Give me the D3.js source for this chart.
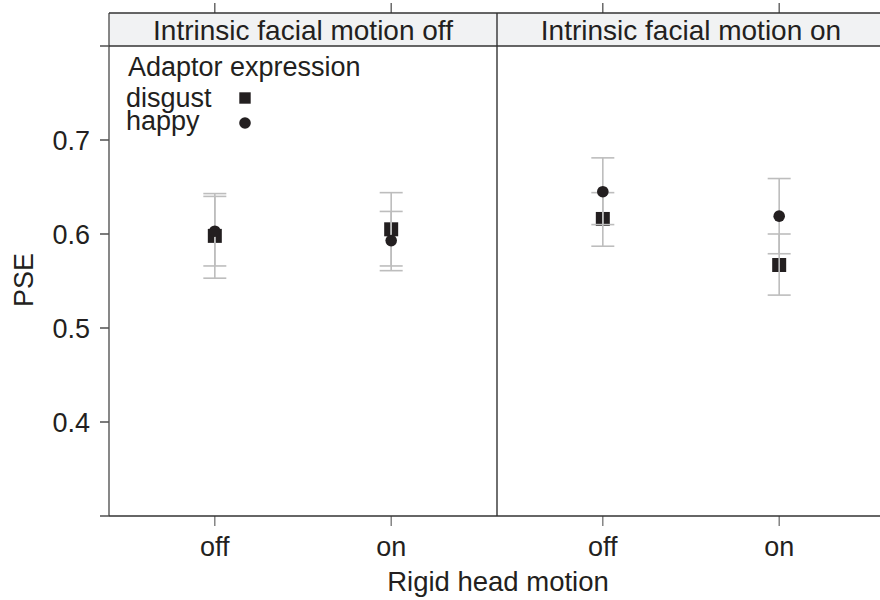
<!DOCTYPE html>
<html>
<head>
<meta charset="utf-8">
<style>
body { margin: 0; background: #fff; }
text { font-family: "Liberation Sans", Arial, sans-serif; fill: #231f20; }
</style>
</head>
<body>
<div id="chart"></div>
<script src="https://d3js.org/d3.v7.min.js"></script>
<script>

// data
var panels = ["Intrinsic facial motion off", "Intrinsic facial motion on"];
var headLevels = ["off", "on"];
var expressions = ["disgust", "happy"];
// values per panel, in order [off, on]
var disgustPSE   = [[0.598, 0.605], [0.616, 0.567]];
var disgustLower = [[0.553, 0.566], [0.587, 0.535]];
var disgustUpper = [[0.643, 0.644], [0.644, 0.600]];
var happyPSE     = [[0.603, 0.593], [0.645, 0.619]];
var happyLower   = [[0.566, 0.561], [0.610, 0.579]];
var happyUpper   = [[0.640, 0.624], [0.681, 0.659]];
var yTicks = [0.3, 0.4, 0.5, 0.6, 0.7, 0.8];
var yLabels = [0.4, 0.5, 0.6, 0.7];

var W = 880, H = 600;
var mLeft = 109, mTop = 13, stripH = 33, mBottom = 516, panelW = 388;

var rows = [];
panels.forEach(function(p, pi) {
  headLevels.forEach(function(h, hi) {
    rows.push({panel: pi, head: h, expr: "disgust", pse: disgustPSE[pi][hi], lo: disgustLower[pi][hi], hi: disgustUpper[pi][hi]});
    rows.push({panel: pi, head: h, expr: "happy", pse: happyPSE[pi][hi], lo: happyLower[pi][hi], hi: happyUpper[pi][hi]});
  });
});

var svg = d3.select("#chart").append("svg")
  .attr("width", W).attr("height", H);

var y = d3.scaleLinear().domain([0.3, 0.8]).range([mBottom, mTop + stripH]);
var x = d3.scalePoint().domain(headLevels).range([0, panelW]).padding(0.6);

// y axis ticks (outside)
svg.selectAll(".ytick").data(yTicks).enter().append("line")
  .attr("x1", mLeft - 9).attr("x2", mLeft)
  .attr("y1", function(d) { return y(d); }).attr("y2", function(d) { return y(d); })
  .attr("stroke", "#333").attr("stroke-width", 1.3);

svg.selectAll(".ylab").data(yLabels).enter().append("text")
  .attr("x", mLeft - 19).attr("y", function(d) { return y(d); })
  .attr("dy", "0.36em").attr("text-anchor", "end")
  .style("font-size", "27px")
  .text(function(d) { return d.toFixed(1); });

svg.append("text")
  .attr("transform", "translate(33,280) rotate(-90)")
  .attr("text-anchor", "middle")
  .style("font-size", "27px")
  .text("PSE");

svg.append("text")
  .attr("x", 498).attr("y", 591)
  .attr("text-anchor", "middle")
  .style("font-size", "27.5px")
  .text("Rigid head motion");

panels.forEach(function(p, pi) {
  var g = svg.append("g").attr("transform", "translate(" + (mLeft + pi * panelW) + ",0)");

  // strip
  g.append("rect")
    .attr("x", 0).attr("y", mTop).attr("width", panelW).attr("height", stripH)
    .attr("fill", "#f1f2f3");
  g.append("text")
    .attr("x", panelW / 2).attr("y", mTop + stripH / 2)
    .attr("dy", "0.36em").attr("text-anchor", "middle")
    .style("font-size", "28px")
    .text(p);

  // top ticks
  g.selectAll(".ttick").data(headLevels).enter().append("line")
    .attr("x1", function(d) { return x(d); }).attr("x2", function(d) { return x(d); })
    .attr("y1", mTop - 10).attr("y2", mTop)
    .attr("stroke", "#444").attr("stroke-width", 1.2);

  // bottom ticks and labels
  g.selectAll(".btick").data(headLevels).enter().append("line")
    .attr("x1", function(d) { return x(d); }).attr("x2", function(d) { return x(d); })
    .attr("y1", mBottom).attr("y2", mBottom + 10)
    .attr("stroke", "#666").attr("stroke-width", 1.2);
  g.selectAll(".blab").data(headLevels).enter().append("text")
    .attr("x", function(d) { return x(d); }).attr("y", mBottom + 40)
    .attr("text-anchor", "middle")
    .style("font-size", "27px")
    .text(function(d) { return d; });

  var pr = rows.filter(function(r) { return r.panel === pi; });

  // disgust squares
  g.selectAll(".sq").data(pr.filter(function(r) { return r.expr === "disgust"; })).enter().append("path")
    .attr("transform", function(d) { return "translate(" + x(d.head) + "," + y(d.pse) + ")"; })
    .attr("d", d3.symbol(d3.symbolSquare, 196))
    .attr("fill", "#231f20");

  // error bars
  var eb = g.selectAll(".eb").data(pr).enter().append("g")
    .attr("stroke", "#bdbdbd").attr("stroke-width", 1.6).attr("fill", "none");
  eb.append("line")
    .attr("x1", function(d) { return x(d.head); }).attr("x2", function(d) { return x(d.head); })
    .attr("y1", function(d) { return y(d.lo); }).attr("y2", function(d) { return y(d.hi); });
  eb.append("line")
    .attr("x1", function(d) { return x(d.head) - 11.5; }).attr("x2", function(d) { return x(d.head) + 11.5; })
    .attr("y1", function(d) { return y(d.lo); }).attr("y2", function(d) { return y(d.lo); });
  eb.append("line")
    .attr("x1", function(d) { return x(d.head) - 11.5; }).attr("x2", function(d) { return x(d.head) + 11.5; })
    .attr("y1", function(d) { return y(d.hi); }).attr("y2", function(d) { return y(d.hi); });

  // happy circles
  g.selectAll(".ci").data(pr.filter(function(r) { return r.expr === "happy"; })).enter().append("circle")
    .attr("cx", function(d) { return x(d.head); }).attr("cy", function(d) { return y(d.pse); })
    .attr("r", 5.8)
    .attr("fill", "#231f20");
});

// frame lines
var frame = svg.append("g").attr("stroke", "#333").attr("stroke-width", 1.4);
frame.append("line").attr("x1", mLeft).attr("x2", mLeft).attr("y1", mTop).attr("y2", mBottom).attr("stroke", "#555");
frame.append("line").attr("x1", mLeft + panelW).attr("x2", mLeft + panelW).attr("y1", mTop).attr("y2", mBottom);
frame.append("line").attr("x1", mLeft).attr("x2", W).attr("y1", mTop).attr("y2", mTop);
frame.append("line").attr("x1", mLeft).attr("x2", W).attr("y1", mTop + stripH).attr("y2", mTop + stripH);
frame.append("line").attr("x1", mLeft).attr("x2", W).attr("y1", mBottom).attr("y2", mBottom);

// legend
var leg = svg.append("g");
leg.append("text").attr("x", 128).attr("y", 76).style("font-size", "27px").text("Adaptor expression");
leg.selectAll(".lt").data(expressions).enter().append("text")
  .attr("x", 126).attr("y", function(d, i) { return 107 + i * 23; })
  .style("font-size", "27px")
  .text(function(d) { return d; });
leg.append("path")
  .attr("transform", "translate(245,98)")
  .attr("d", d3.symbol(d3.symbolSquare, 130))
  .attr("fill", "#231f20");
leg.append("circle").attr("cx", 245).attr("cy", 123).attr("r", 5.8).attr("fill", "#231f20");

</script>
</body>
</html>
